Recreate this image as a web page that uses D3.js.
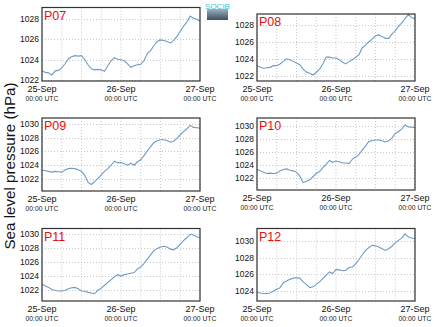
<!DOCTYPE html>
<html><head><meta charset="utf-8">
<script src="https://cdn.jsdelivr.net/npm/d3@7/dist/d3.min.js"></script>
<style>body{margin:0;background:#fff}svg{display:block}</style>
</head><body>
<script>
// ---- data (hourly sea level pressure, hPa, from 25-Sep 00:00 UTC) ----
const stations = ["P07", "P08", "P09", "P10", "P11", "P12"];
const p07 = [1022.9,1022.75,1022.7,1022.5,1022.9,1022.95,1023.2,1023.6,1024.1,1024.3,1024.4,1024.35,1024.4,1024.0,1023.5,1023.1,1023.0,1023.05,1023.0,1022.85,1023.4,1023.9,1024.2,1024.05,1024.0,1023.9,1023.6,1023.25,1023.4,1023.5,1023.55,1023.9,1024.6,1024.9,1025.4,1025.8,1025.95,1025.9,1025.8,1025.65,1025.9,1026.3,1026.8,1027.3,1027.7,1028.3,1028.1,1028.0,1027.8];
const p08 = [1023.2,1023.0,1022.9,1022.95,1023.0,1023.2,1023.2,1023.4,1023.7,1024.0,1023.9,1023.7,1023.5,1023.3,1022.8,1022.45,1022.3,1022.1,1022.4,1022.8,1023.4,1024.2,1024.2,1024.1,1024.1,1023.9,1023.6,1023.4,1023.7,1023.9,1024.2,1024.5,1025.3,1025.6,1026.0,1026.3,1026.7,1026.8,1026.6,1026.4,1026.4,1026.9,1027.3,1027.8,1028.2,1028.7,1029.2,1028.8,1028.7];
const p09 = [1023.3,1023.2,1023.1,1023.0,1023.1,1023.05,1023.0,1023.3,1023.5,1023.55,1023.5,1023.35,1023.1,1022.5,1021.5,1021.2,1021.6,1022.1,1022.6,1023.1,1023.5,1024.0,1024.6,1024.35,1024.4,1024.2,1024.0,1024.3,1024.0,1024.5,1024.8,1025.4,1026.1,1026.7,1027.3,1027.55,1027.7,1027.7,1027.6,1027.35,1027.5,1027.9,1028.4,1028.9,1029.3,1029.8,1029.5,1029.45,1029.4];
const p10 = [1023.3,1023.1,1022.9,1022.7,1022.75,1022.7,1022.75,1023.1,1023.3,1023.4,1023.2,1023.1,1022.9,1022.3,1021.3,1021.5,1021.7,1022.2,1022.7,1023.0,1023.6,1024.1,1024.7,1024.4,1024.6,1024.5,1024.3,1024.3,1024.2,1024.9,1025.2,1025.6,1026.3,1026.9,1027.6,1027.7,1027.8,1027.8,1027.7,1027.5,1027.7,1028.1,1028.8,1029.1,1029.5,1030.1,1029.8,1029.75,1029.7];
const p11 = [1022.9,1022.6,1022.4,1022.1,1021.95,1021.9,1021.9,1021.95,1022.2,1022.35,1022.4,1022.2,1021.9,1021.85,1021.7,1021.6,1021.5,1022.0,1022.3,1022.7,1023.1,1023.5,1023.9,1024.2,1024.0,1024.2,1024.3,1024.4,1024.5,1025.0,1025.3,1025.8,1026.4,1027.0,1027.6,1027.9,1028.1,1028.2,1028.1,1027.8,1027.7,1028.0,1028.5,1029.0,1029.4,1029.9,1029.8,1029.55,1029.4];
const p12 = [1023.85,1023.75,1023.7,1023.7,1023.75,1024.0,1024.2,1024.4,1025.0,1025.2,1025.4,1025.55,1025.6,1025.55,1025.1,1024.8,1024.4,1024.5,1024.8,1025.1,1025.5,1025.9,1026.3,1026.1,1026.6,1026.55,1026.45,1026.5,1026.85,1026.9,1027.3,1027.8,1028.4,1028.9,1029.25,1029.5,1029.45,1029.3,1029.1,1028.9,1029.1,1029.4,1029.8,1030.1,1030.4,1030.9,1030.5,1030.4,1030.3];
const yDomains = [[1021.9,1029.15],[1021.4,1029.25],[1020.25,1030.87],[1020.18,1031.16],[1020.48,1030.71],[1022.79,1031.54]];
const yTicks = [[1022,1024,1026,1028],[1022,1024,1026,1028],[1022,1024,1026,1028,1030],[1022,1024,1026,1028,1030],[1022,1024,1026,1028,1030],[1024,1026,1028,1030]];
const startTime = "2014-09-25T00:00:00Z";
const xTickLabels = ["2014-09-25T00:00:00Z","2014-09-26T00:00:00Z","2014-09-27T00:00:00Z"];
const yTitle = "Sea level pressure (hPa)";
const series = [p07, p08, p09, p10, p11, p12];

// ---- layout ----
const W = 434, H = 327;
const boxes = [
  {l:42, r:200, t:7.5, b:81},
  {l:257, r:415, t:14, b:81},
  {l:42, r:200, t:118, b:191},
  {l:257, r:415, t:118, b:190},
  {l:42, r:200, t:228.5, b:301},
  {l:257, r:415, t:228.5, b:301}
];
const svg = d3.select("body").append("svg").attr("width", W).attr("height", H)
  .style("font-family", "'Liberation Sans', Arial, sans-serif");

const t0 = new Date(startTime);
const fmtDay = d3.utcFormat("%d-%b");
const fmtTime = d3.utcFormat("%H:%M UTC");

series.forEach((vals, i) => {
  const bx = boxes[i];
  const data = vals.map((v, h) => ({t: d3.utcHour.offset(t0, h), v}));
  const x = d3.scaleUtc().domain([t0, d3.utcHour.offset(t0, 48)]).range([bx.l, bx.r]);
  const y = d3.scaleLinear().domain(yDomains[i]).range([bx.b, bx.t]);
  const g = svg.append("g");

  // grid
  g.append("g").selectAll("line").data(x.ticks(d3.utcHour.every(6))).join("line")
    .attr("x1", d => x(d)).attr("x2", d => x(d)).attr("y1", bx.t).attr("y2", bx.b)
    .attr("stroke", "#c8c8c8").attr("stroke-width", 1).attr("stroke-dasharray", "1,2");
  g.append("g").selectAll("line").data(yTicks[i]).join("line")
    .attr("x1", bx.l).attr("x2", bx.r).attr("y1", d => Math.round(y(d)) + 0.5).attr("y2", d => Math.round(y(d)) + 0.5)
    .attr("stroke", "#c8c8c8").attr("stroke-width", 1).attr("stroke-dasharray", "1,2");

  // line
  g.append("path").datum(data)
    .attr("d", d3.line().x(d => x(d.t)).y(d => y(d.v)))
    .attr("fill", "none").attr("stroke", "#6f9bc6").attr("stroke-width", 1.1);

  // frame
  g.append("rect").attr("x", bx.l).attr("y", bx.t).attr("width", bx.r - bx.l).attr("height", bx.b - bx.t)
    .attr("fill", "none").attr("stroke", "#333").attr("stroke-width", 1.2);

  // y axis labels
  g.append("g").selectAll("text").data(yTicks[i]).join("text")
    .attr("x", bx.l - 3).attr("y", d => y(d) + 3)
    .attr("text-anchor", "end").attr("font-size", 8.5).attr("fill", "#111")
    .text(d => d);

  // x axis labels
  const xl = g.append("g").selectAll("g").data(xTickLabels.map(s => new Date(s))).join("g");
  xl.append("text").attr("x", d => x(d)).attr("y", bx.b + 11)
    .attr("text-anchor", "middle").attr("font-size", 9).attr("fill", "#111").text(d => fmtDay(d));
  xl.append("text").attr("x", d => x(d)).attr("y", bx.b + 19.5)
    .attr("text-anchor", "middle").attr("font-size", 6.8).attr("fill", "#222").text(d => fmtTime(d));

  // station label
  g.append("text").attr("x", bx.l + 2).attr("y", bx.t + 12)
    .attr("font-size", 12.5).attr("fill", "#e8100c").text(stations[i]);
});

// y title
svg.append("text").attr("transform", "translate(15,166) rotate(-90)")
  .attr("text-anchor", "middle").attr("font-size", 15.2).attr("fill", "#111").text(yTitle);

// logo
const defs = svg.append("defs");
const lg = defs.append("linearGradient").attr("id", "lg").attr("x1", 0).attr("y1", 0).attr("x2", 0).attr("y2", 1);
lg.append("stop").attr("offset", 0).attr("stop-color", "#9bb3c4");
lg.append("stop").attr("offset", 1).attr("stop-color", "#3b4f5f");
svg.append("rect").attr("x", 207).attr("y", 9).attr("width", 21).attr("height", 11).attr("fill", "url(#lg)");
svg.append("text").attr("x", 217.5).attr("y", 8.5).attr("text-anchor", "middle")
  .attr("font-size", 8).attr("fill", "#3cc3d8").text("SOCIB");
</script>
</body></html>
